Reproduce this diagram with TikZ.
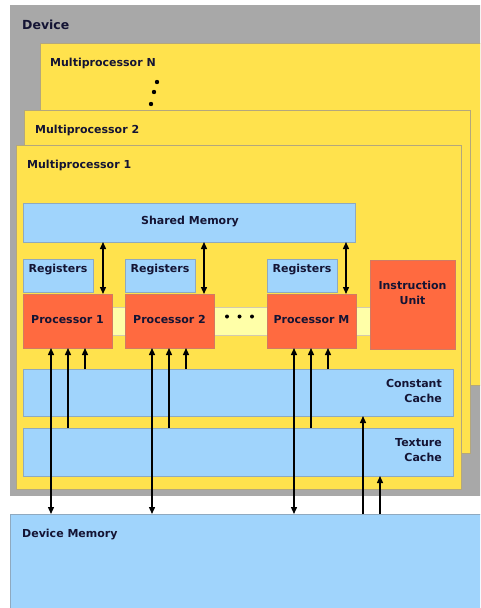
\documentclass[tikz,border=0pt]{standalone}
\usepackage{fontspec}
\setmainfont{DejaVu Sans}
\usetikzlibrary{arrows.meta,calc}
\definecolor{devgray}{HTML}{A8A8A8}
\definecolor{mpyel}{HTML}{FFE24D}
\definecolor{mpedge}{HTML}{B4A77C}
\definecolor{memblue}{HTML}{A0D4FC}
\definecolor{blueedge}{HTML}{8FA9BF}
\definecolor{proc}{HTML}{FF6A40}
\definecolor{procedge}{HTML}{D27A62}
\definecolor{lightyel}{HTML}{FFFFA8}
\definecolor{txt}{HTML}{141434}
\begin{document}
\begin{tikzpicture}[x=1pt,y=-1pt,
  blk/.style={anchor=north west, inner sep=0pt, outer sep=0pt, line width=0.9pt},
  mp/.style={blk, fill=mpyel, draw=mpedge},
  mem/.style={blk, fill=memblue, draw=blueedge},
  pr/.style={blk, fill=proc, draw=procedge},
  lbl/.style={font=\bfseries\fontsize{11}{15}\selectfont, text=txt, inner sep=0pt},
  arr/.style={line width=1.4pt, -{Triangle[length=7pt,width=6pt]}},
  darr/.style={line width=1.4pt, {Triangle[length=7pt,width=6pt]}-{Triangle[length=7pt,width=6pt]}}]
\clip (0,0) rectangle (480,608);
\fill[white] (0,0) rectangle (480,608);
% device and multiprocessors
\node[blk, fill=devgray, minimum width=490pt, minimum height=491pt] (dev) at (10,5) {};
\node[lbl, anchor=base west, font=\bfseries\fontsize{12.5}{15}\selectfont] (tdev) at (22,29.5) {Device};
\node[mp, minimum width=460pt, minimum height=342pt] (mpn) at (40,43) {};
\node[lbl, anchor=base west] (tmpn) at (50,66) {Multiprocessor N};
\fill[black] (157,82) circle (2.2) (154,92) circle (2.2) (151,104) circle (2.2);
\node[mp, minimum width=446pt, minimum height=343pt] (mp2) at (24,110) {};
\node[lbl, anchor=base west] (tmp2) at (35,133) {Multiprocessor 2};
\node[mp, minimum width=445pt, minimum height=344pt] (mp1) at (16,145) {};
\node[lbl, anchor=base west] (tmp1) at (27,168) {Multiprocessor 1};
% shared memory
\node[mem, minimum width=332pt, minimum height=39pt] (sm) at (23,203) {};
\node[lbl] (tsm) at (190,222) {Shared Memory};
% bus
\node[blk, fill=lightyel, draw=mpedge!60, minimum width=310pt, minimum height=28pt] (bus) at (60,307) {};
\fill[black] (227,316.5) circle (2) (239.5,316.5) circle (2) (252,316.5) circle (2);
% registers
\node[mem, minimum width=70pt, minimum height=33pt] (r1) at (23,259) {};
\node[mem, minimum width=70pt, minimum height=33pt] (r2) at (125,259) {};
\node[mem, minimum width=70pt, minimum height=33pt] (rm) at (267,259) {};
\node[lbl, anchor=base] (tr1) at (58,272.5) {Registers};
\node[lbl, anchor=base] (tr2) at (160,272.5) {Registers};
\node[lbl, anchor=base] (trm) at (302,272.5) {Registers};
% processors
\node[pr, minimum width=89pt, minimum height=54pt] (p1) at (23,294) {};
\node[pr, minimum width=89pt, minimum height=54pt] (p2) at (125,294) {};
\node[pr, minimum width=89pt, minimum height=54pt] (pm) at (267,294) {};
\node[lbl, anchor=base] (tp1) at (67.5,323.5) {Processor 1};
\node[lbl, anchor=base] (tp2) at (169.5,323.5) {Processor 2};
\node[lbl, anchor=base] (tpm) at (311.5,323.5) {Processor M};
\node[pr, minimum width=85pt, minimum height=89pt] (iu) at (370,260) {};
\node[lbl, anchor=base] (tiu1) at (412.5,289) {Instruction};
\node[lbl, anchor=base] (tiu2) at (412.5,304) {Unit};
% caches
\node[mem, minimum width=430pt, minimum height=47pt] (cc) at (23,369) {};
\node[lbl, anchor=base east] (tcc1) at (442,387) {Constant};
\node[lbl, anchor=base east] (tcc2) at (442,402) {Cache};
\node[mem, minimum width=430pt, minimum height=48pt] (tc) at (23,428) {};
\node[lbl, anchor=base east] (ttc1) at (442,446.5) {Texture};
\node[lbl, anchor=base east] (ttc2) at (442,461.5) {Cache};
% device memory
\node[mem, minimum width=480pt, minimum height=100pt] (dm) at (10,514) {};
\node[lbl, anchor=base west] (tdm) at (22,537) {Device Memory};
% arrows shared memory <-> processors
\draw[darr] (103,0 |- sm.south) -- (103,0 |- p1.north);
\draw[darr] (204,0 |- sm.south) -- (204,0 |- p2.north);
\draw[darr] (346,0 |- sm.south) -- (346,0 |- pm.north);
% processor 1
\draw[darr] (51,0 |- p1.south) -- (51,0 |- dm.north);
\draw[arr] (68,0 |- tc.north) -- (68,0 |- p1.south);
\draw[arr] (85,0 |- cc.north) -- (85,0 |- p1.south);
% processor 2
\draw[darr] (152,0 |- p2.south) -- (152,0 |- dm.north);
\draw[arr] (169,0 |- tc.north) -- (169,0 |- p2.south);
\draw[arr] (186,0 |- cc.north) -- (186,0 |- p2.south);
% processor M
\draw[darr] (294,0 |- pm.south) -- (294,0 |- dm.north);
\draw[arr] (311,0 |- tc.north) -- (311,0 |- pm.south);
\draw[arr] (328,0 |- cc.north) -- (328,0 |- pm.south);
% caches from device memory
\draw[arr] (363,0 |- dm.north) -- (363,0 |- cc.south);
\draw[arr] (380,0 |- dm.north) -- (380,0 |- tc.south);
\end{tikzpicture}
\end{document}
